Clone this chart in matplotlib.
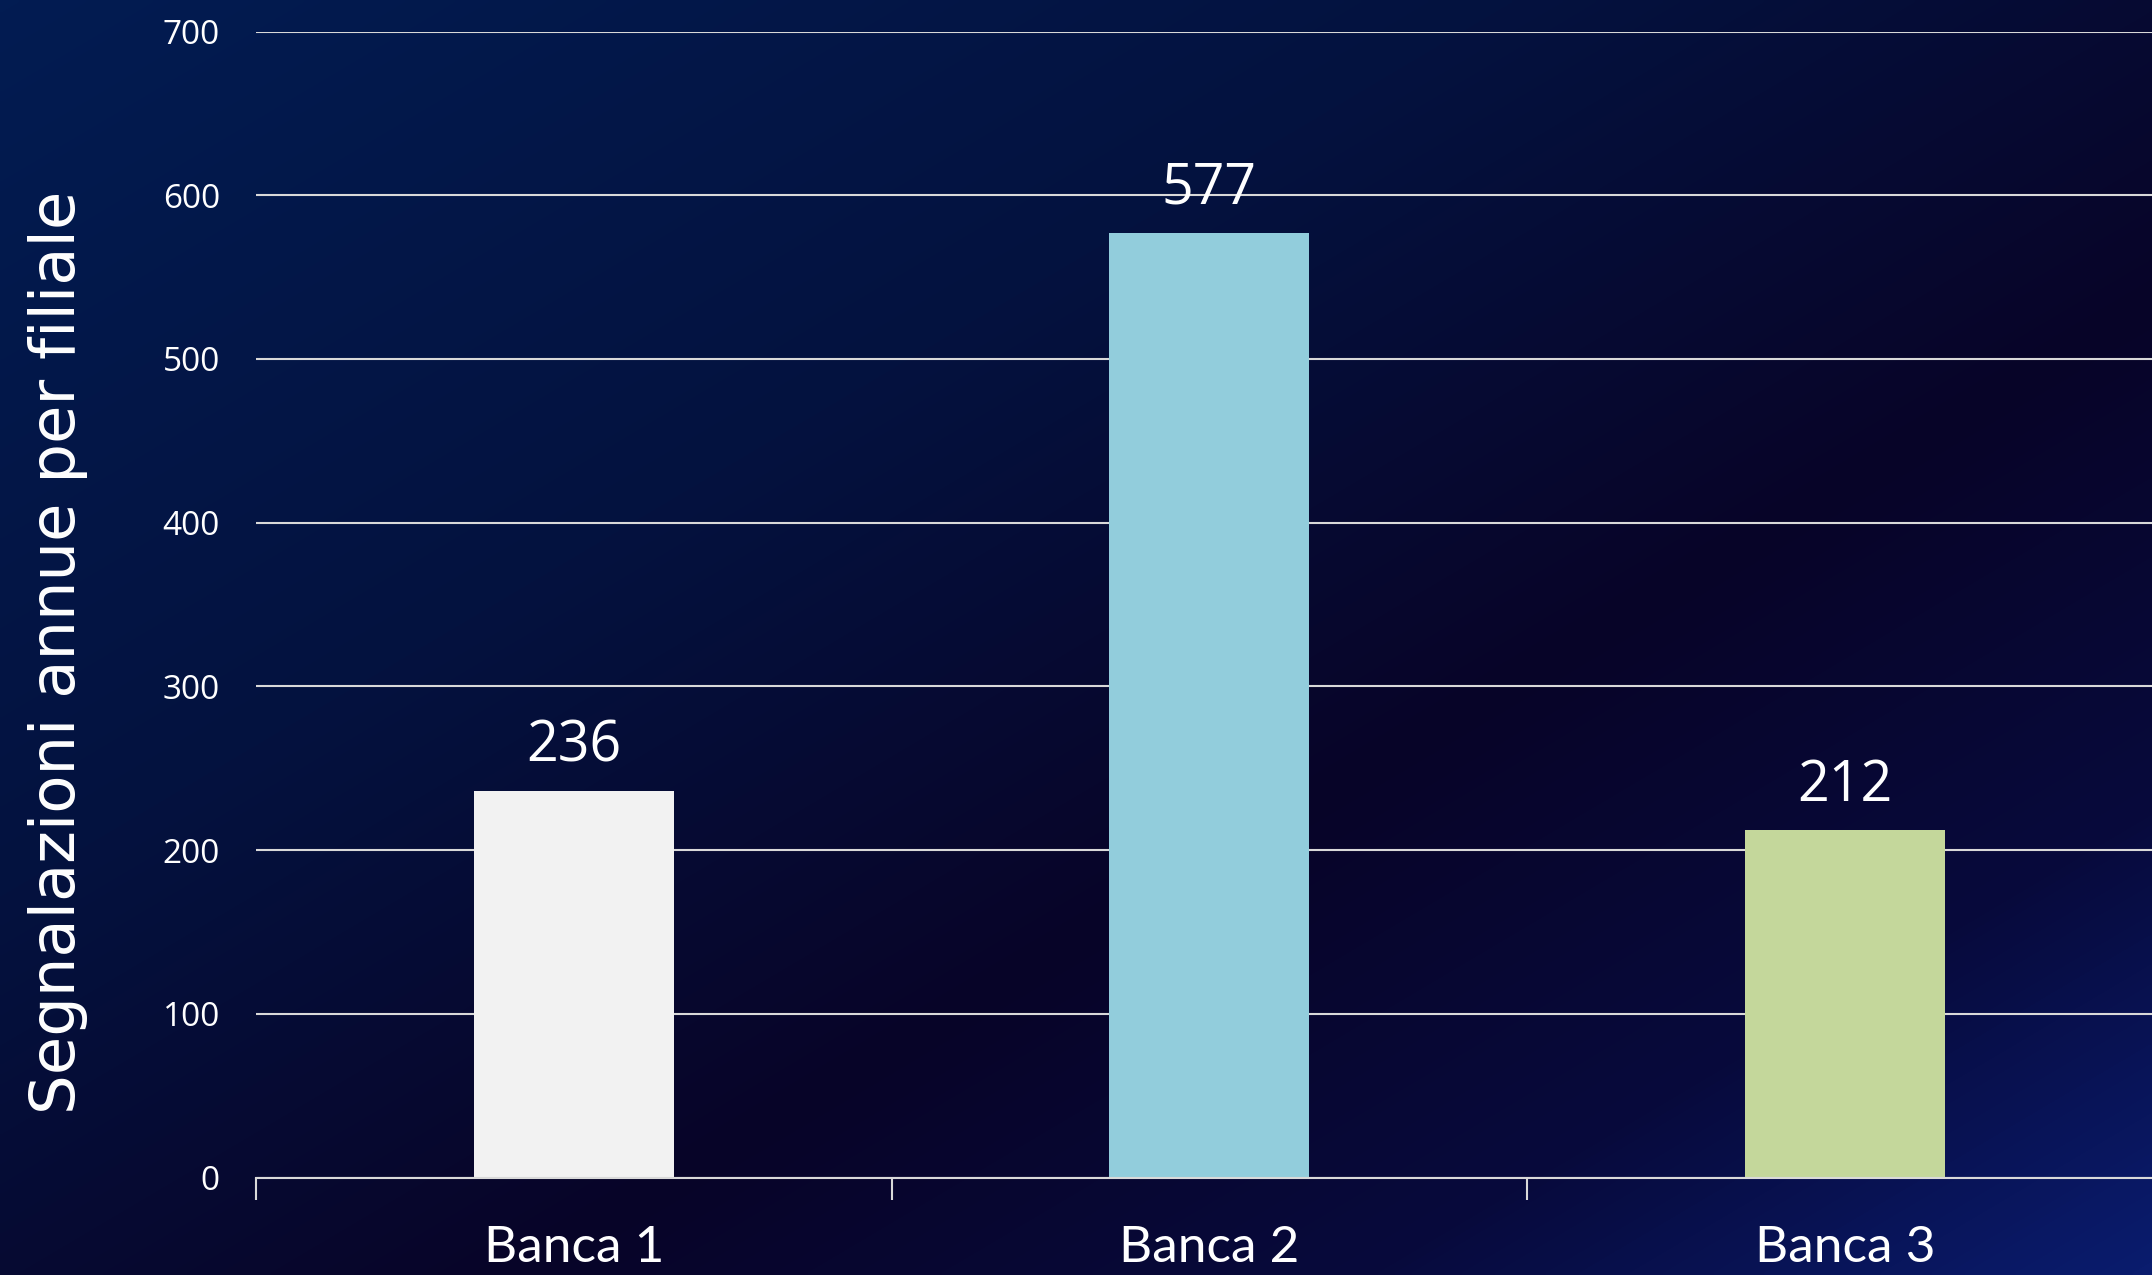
import numpy as np
import matplotlib
matplotlib.use("Agg")
import matplotlib.pyplot as plt
from matplotlib.colors import LinearSegmentedColormap

categories = ["Banca 1", "Banca 2", "Banca 3"]
values = [236, 577, 212]
bar_colors = ["#f2f2f2", "#92cddc", "#c4d79b"]
yticks = [0, 100, 200, 300, 400, 500, 600, 700]

W, H, DPI = 2152, 1275, 100
fig = plt.figure(figsize=(W / DPI, H / DPI), dpi=DPI)

# background gradient
bg = fig.add_axes([0, 0, 1, 1], zorder=-10)
bg.set_axis_off()
yy, xx = np.mgrid[0:1:300j, 0:1:500j]
t = np.clip(0.5 * xx + 0.5 * yy, 0, 1)
cmap = LinearSegmentedColormap.from_list(
    "bgc", [(0.0, "#021c52"), (0.35, "#04123f"), (0.62, "#080428"), (0.82, "#070a3c"), (1.0, "#0a1c6e")])
bg.imshow(t, cmap=cmap, aspect="auto", extent=[0, 1, 1, 0], interpolation="bilinear")
bg.set_xlim(0, 1); bg.set_ylim(1, 0)

left, right = 256 / W, 1.005
bottom, top = 1 - 1177.5 / H, 1 - 31.5 / H
ax = fig.add_axes([left, bottom, right - left, top - bottom])
ax.patch.set_alpha(0)

x = np.arange(len(categories))
bars = ax.bar(x, values, width=0.315, color=bar_colors, zorder=3)
ax.set_xlim(-0.5, 2.5)
ax.set_ylim(0, 700)
ax.set_yticks(yticks)
ax.grid(axis="y", color="#d9d9d9", linewidth=1.5, zorder=0)
ax.set_axisbelow(True)
for s in ["top", "right", "left"]:
    ax.spines[s].set_visible(False)
ax.spines["bottom"].set_color("#d9d9d9")
ax.spines["bottom"].set_linewidth(1.5)
ax.spines["bottom"].set_zorder(4)

ax.tick_params(axis="y", length=0, pad=26, labelsize=24, labelcolor="white")
for lab in ax.get_yticklabels():
    lab.set_fontfamily("Open Sans")

ax.set_xticks(x)
ax.set_xticklabels(categories, fontfamily="Lato", fontsize=37, color="white")
ax.tick_params(axis="x", which="major", length=0, pad=34)
ax.set_xticks([-0.5, 0.5, 1.5, 2.5], minor=True)
ax.tick_params(axis="x", which="minor", length=16, width=1.5, color="#d9d9d9", direction="out")

for xi, v in zip(x, values):
    ax.annotate(str(v), (xi, v), xytext=(0, 11), textcoords="offset points",
                ha="center", va="bottom", fontsize=40, color="white", fontfamily="Open Sans")

fig.text(58 / W, 1 - 652 / H, "Segnalazioni annue per filiale", rotation=90,
         ha="center", va="center", fontsize=45, color="white", fontfamily="DejaVu Sans")

fig.savefig("out.png", dpi=DPI)
